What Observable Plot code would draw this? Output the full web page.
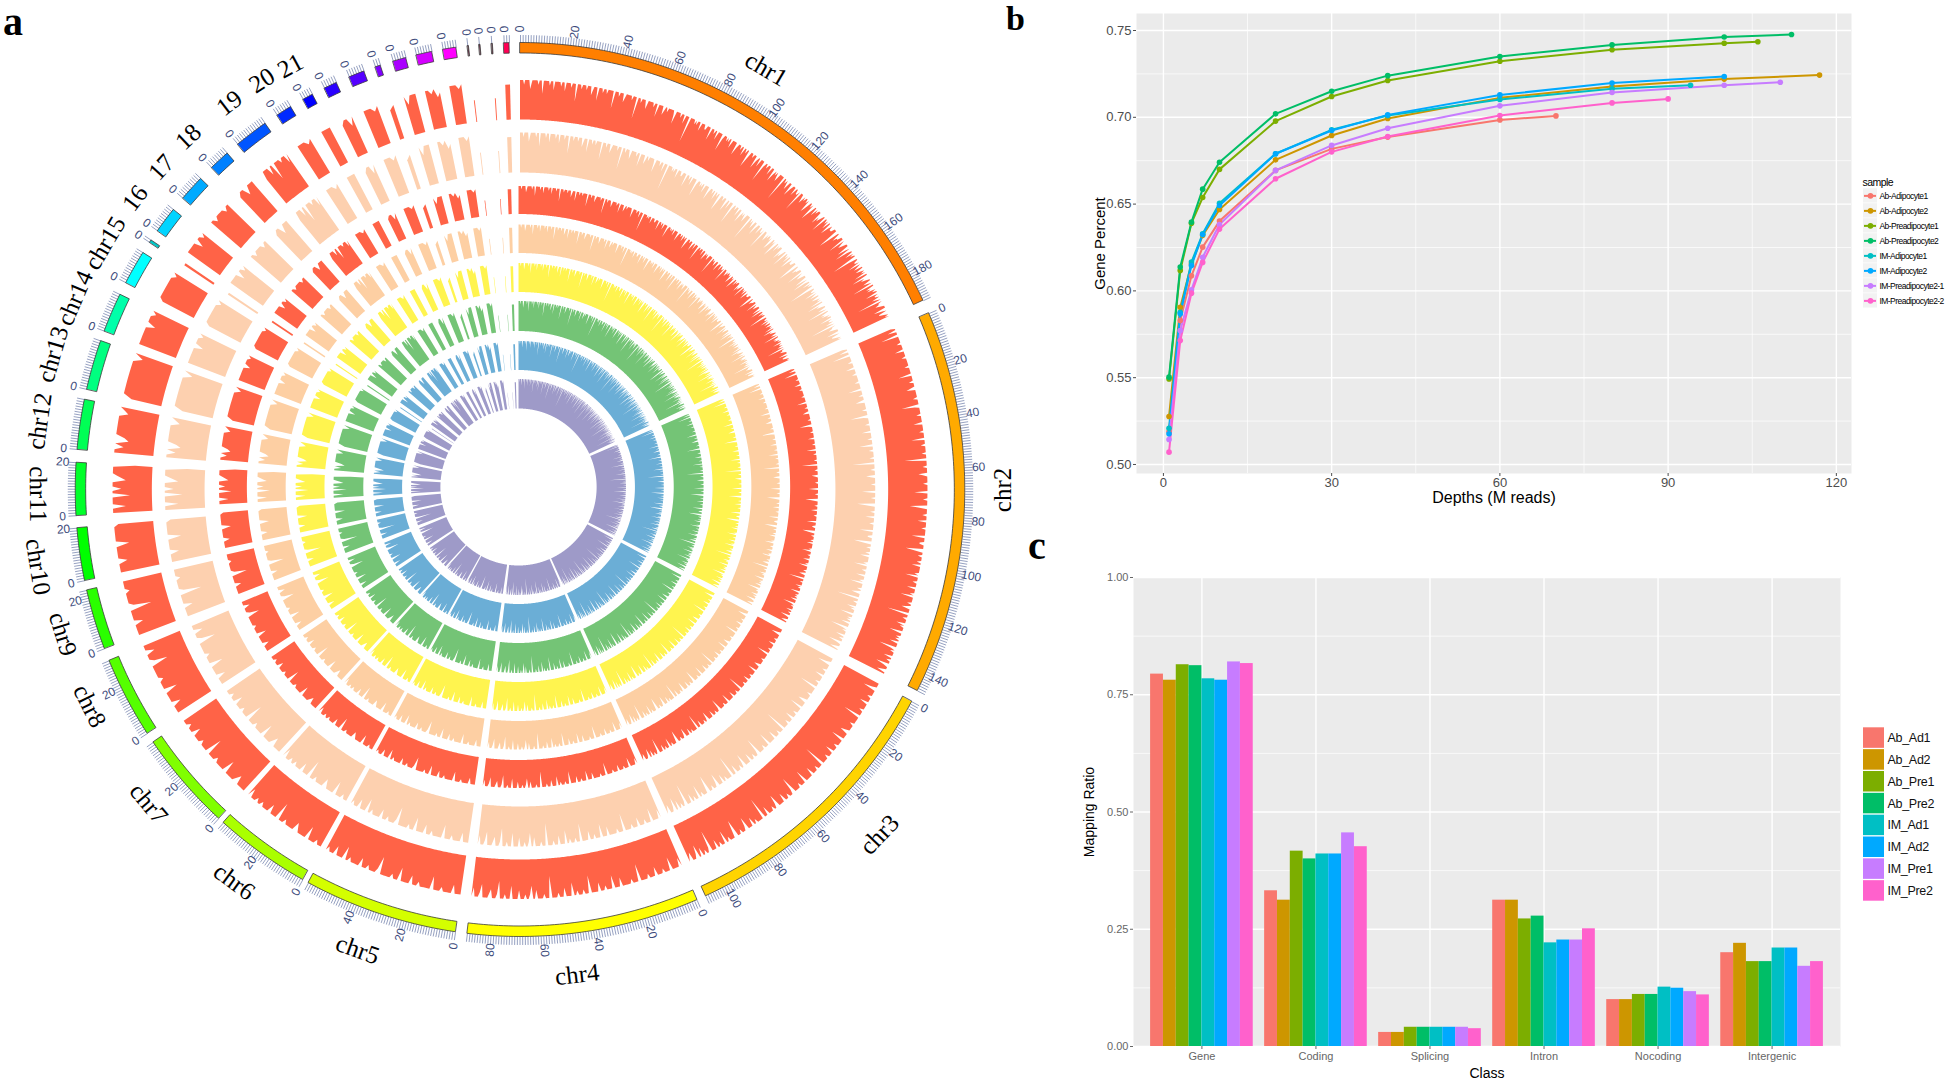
<!DOCTYPE html>
<html><head><meta charset="utf-8">
<script src="https://cdn.jsdelivr.net/npm/d3@7"></script>
<script src="https://cdn.jsdelivr.net/npm/@observablehq/plot@0.6"></script>
<style>
html,body{margin:0;padding:0;background:#fff}
#page{position:relative;width:1946px;height:1081px;overflow:hidden}
#page>svg,#page>figure{position:absolute;margin:0}
.tag{position:absolute;font-family:"Liberation Serif",serif;font-weight:bold;color:#000;line-height:1.1}
</style></head><body><div id="page"></div>
<script>
// ---------- panel a: genome ring ----------
const chromosomes=["chr1","chr2","chr3","chr4","chr5","chr6","chr7","chr8","chr9","chr10","chr11","chr12","chr13","chr14","chr15","16","17","18","19","20","21","22","23","24","25","26","27","28","29","30","31","32"];
const chrStartDeg=[0,66.75,118.3,156.6,188.4,209.3,222.7,237,249.2,258.3,266.7,275.2,283,290.8,297.6,303.6,305.4,310.7,316.1,320.6,326.9,330.8,333.9,337.4,341,343.4,346.5,350,353.2,354.7,356.3,357.9];
const chrMb=[191,147,109,89,59,37,38,31,23,20,20,19,19,15,13,1,10,10,8,13,6,4,5,6,2,5,6,5,.4,.4,.4,2];
const chrColors=["#FF7F00","#FFAA00","#FFD400","#FFFF00","#D4FF00","#AAFF00","#80FF00","#55FF00","#2AFF00","#00FF00","#00FF2A","#00FF55","#00FF80","#00FFAA","#00FFFF","#00C8C8","#00D4FF","#00AAFF","#0080FF","#0055FF","#002AFF","#0000FF","#2A00FF","#5500FF","#7F00FF","#AA00FF","#D400FF","#FF00FF","#703048","#703048","#703048","#FF0055"];
const labelNames=chromosomes.slice(0,21);
const labelAngle=[30.4,90,133.7,173.3,199.6,216.3,230,243.5,252.6,261,269.5,278.1,286.1,293.2,300.6,307,311.8,316.6,322.9,327.6,331.4];
const labelRadius=[488,485,499,488,488,486,488,484,482,491,485,488,489,487,485,485,484,486,485,485,483];
const trackInner=[370,317,273,234,195,156,117,78.5];
const trackOuter=[409.5,357,301,262.5,224,186,146,108];
const trackColors=["#FF6347","#FDD0AF","#FF6347","#FDCFA3","#FFF44F","#74C476","#6BAED6","#9E9AC8"];
const trackShiftX=[0,0,-1.5,-1.5,-1.5,-1.5,-1.5,-1.5];
const trackShiftY=[0,0,2.5,2.5,2.5,2.5,2.5,2.5];
// Read depth per chromosome, one digit per sampled window (0 empty - 9 full track height)
const depthProfile=[
"9999899999789999998999699999989997999999899979999989999599998999989999789999699998999899999959999899997899999989999499989999879999998999699999789989999998699999899979999399999898999799998899996999899799999589998989979999968999899799899579998999689979999489989997999689898799999399898799968999799889499987989989679989579979899968789959989799689888999469978899959878999689589979899379988969879978989699587899789499787989969889789398878999689778989",
"8997999599999989999979999989999999899999969999989999879999999899999589999998999999799999989999969999899999989999499999899999789999998999999699999899999579999989999799999899999969999889999579998999989979999998969999899997999989699999899879999499989999798999969998989979999589899997998999689998799",
"9999869999989999799999899995999999899999879999969999989999799998999994999989999799999969999899999589998999799999689989999799949999989979999689998999579999899699989979999489989979968999789",
"9799999699998999979999899999599998999999799996999989997999995999899989969999799989999499989999799689989997999969998999589997899996899979",
"9999799999899996999999899979999969998999999589999899979999989969999799989",
"99989999699999879999989995999979999899899979",
"99999789999969999989999599998999979998999",
"9999799999699998999999589997999",
"99999799999489999989999",
"999979999969999998",
"99969999599799967899994",
"9979679999999789",
"799999999979",
"9999999799989",
"89999999989",
"88",
"9999979989",
"9989999899",
"8997999",
"7999979959999899979",
"99989",
"999",
"89979",
"99989",
"78",
"97999",
"998978",
"99989",
"5","0","5","88"
];
const R=(rad,deg)=>[rad*Math.sin(deg*Math.PI/180),rad*Math.cos(deg*Math.PI/180)];
const degPerMb=0.34;
function chrDeg(c,mb){return chrStartDeg[c]+mb*degPerMb}
function trackRows(t){
  const rows=[];
  chromosomes.forEach((name,c)=>{
    const s=depthProfile[c];
    const n=Math.max(s.length,2);
    for(let i=0;i<n;i++){
      const v=+s[Math.min(i,s.length-1)];
      const deg=chrDeg(c,chrMb[c]*i/(n-1));
      rows.push({chr:name,deg,r0:trackInner[t],r1:trackInner[t]+(trackOuter[t]-trackInner[t])*v/9,
        sx:trackShiftX[t],sy:trackShiftY[t]});
    }
  });
  return rows;
}
const ideoRows=chromosomes.flatMap((name,c)=>{
  const n=Math.max(2,Math.ceil(chrMb[c]/2)+1);
  return d3.range(n).map(i=>({chr:name,deg:chrDeg(c,chrMb[c]*i/(n-1)),color:chrColors[c]}));
});
const tickRows=chromosomes.flatMap((name,c)=>d3.range(0,chrMb[c]+.5).map(mb=>({deg:chrDeg(c,mb),mb})));
const tickLabelRows=chromosomes.flatMap((name,c)=>d3.range(0,chrMb[c]+.5,20).map(mb=>({deg:chrDeg(c,mb),mb})));
const chrLabelRows=labelNames.map((name,i)=>({name,deg:labelAngle[i],r:labelRadius[i]}));
const ringPlot=Plot.plot({
  width:1060,height:1010,margin:0,
  x:{domain:[-522.6,542.7],range:[0,1060],axis:null},
  y:{domain:[-520.5,489.5],range:[1010,0],axis:null},
  color:{type:"identity"},
  marks:[
    ...trackColors.map((col,t)=>Plot.area(trackRows(t),{
      x1:d=>R(d.r0,d.deg)[0]+d.sx,y1:d=>R(d.r0,d.deg)[1]+d.sy,
      x2:d=>R(d.r1,d.deg)[0]+d.sx,y2:d=>R(d.r1,d.deg)[1]+d.sy,
      z:"chr",fill:col})),
    Plot.link(tickRows,{
      x1:d=>R(447,d.deg)[0],y1:d=>R(447,d.deg)[1],
      x2:d=>R(455,d.deg)[0],y2:d=>R(455,d.deg)[1],
      stroke:"#8a96ba",strokeWidth:0.9}),
    Plot.area(ideoRows,{
      x1:d=>R(436.5,d.deg)[0],y1:d=>R(436.5,d.deg)[1],
      x2:d=>R(447,d.deg)[0],y2:d=>R(447,d.deg)[1],
      z:"chr",fill:"color",stroke:"#3a3a3a",strokeWidth:0.8}),
    Plot.text(tickLabelRows,{
      x:d=>R(461,d.deg)[0],y:d=>R(461,d.deg)[1],text:d=>String(d.mb),
      rotate:d=>d.deg<=180?d.deg-90:d.deg-270,
      fontSize:12,fontFamily:"Liberation Sans",fill:"#3e4c7c"}),
    Plot.text(chrLabelRows,{
      x:d=>R(d.r,d.deg)[0],y:d=>R(d.r,d.deg)[1],text:"name",
      rotate:d=>(d.deg>=90&&d.deg<270)?(d.deg===90?-90:d.deg-180):(d.deg>=270?d.deg-360:d.deg),
      fontSize:25,fontFamily:"Liberation Serif",fill:"#000"})
  ]
});
ringPlot.style.left="0px";ringPlot.style.top="0px";
document.getElementById("page").appendChild(ringPlot);

// ---------- panel b: saturation curves ----------
const sampleNames=["Ab-Adipocyte1","Ab-Adipocyte2","Ab-Preadipocyte1","Ab-Preadipocyte2","IM-Adipocyte1","IM-Adipocyte2","IM-Preadipocyte2-1","IM-Preadipocyte2-2"];
const hueColors=["#F8766D","#CD9600","#7CAE00","#00BE67","#00BFC4","#00A9FF","#C77CFF","#FF61CC"];
const depthsCommon=[1,3,5,7,10,20,30,40,60,80,100];
const depthEnd=[70,117,106,112,94,100,110,90];
const genePct=[
 [.519,.583,.6087,.6252,.6402,.6694,.6818,.6886,.6985,.7008],
 [.5276,.5906,.6155,.632,.6469,.6755,.6895,.6993,.7112,.7177,.722,.7243],
 [.5492,.6118,.639,.6538,.67,.6978,.712,.7212,.7323,.7389,.7427,.7435],
 [.5503,.6137,.6396,.6586,.6741,.702,.715,.724,.735,.7417,.7463,.7477],
 [.5209,.5877,.6166,.6329,.6505,.679,.6928,.701,.7103,.7164,.7185],
 [.5177,.5868,.6146,.6325,.6492,.679,.6924,.7014,.7129,.7197,.7235],
 [.5144,.5772,.6006,.6194,.6382,.6694,.6838,.6937,.7066,.7143,.7185,.7202],
 [.5071,.5714,.5987,.6164,.6356,.6646,.6801,.6889,.701,.7083,.7106]
];
const curveRows=sampleNames.flatMap((s,k)=>genePct[k].map((v,i)=>({sample:s,
  depth:i===genePct[k].length-1?depthEnd[k]:depthsCommon[i],pct:v})));
const grey="#EBEBEB";
const curvePlot=Plot.plot({
  width:775,height:520,marginLeft:56,marginRight:4,marginTop:13,marginBottom:47,
  x:{domain:[-4.8,122.7]},y:{domain:[0.4948,0.7598]},
  color:{domain:sampleNames,range:hueColors},
  marks:[
    Plot.frame({fill:grey,stroke:null}),
    Plot.ruleY([.525,.575,.625,.675,.725],{stroke:"#fff",strokeWidth:.7}),
    Plot.ruleX([15,45,75,105],{stroke:"#fff",strokeWidth:.7}),
    Plot.ruleY([.5,.55,.6,.65,.7,.75],{stroke:"#fff",strokeWidth:1.4}),
    Plot.ruleX([0,30,60,90,120],{stroke:"#fff",strokeWidth:1.4}),
    Plot.axisX({ticks:[0,30,60,90,120],tickSize:3,tickPadding:1,fontSize:13,color:"#4d4d4d",label:null}),
    Plot.axisY({ticks:[.5,.55,.6,.65,.7,.75],tickFormat:d3.format(".2f"),tickSize:3,tickPadding:2,fontSize:13,color:"#4d4d4d",label:null}),
    Plot.line(curveRows,{x:"depth",y:"pct",stroke:"sample",z:"sample",strokeWidth:2}),
    Plot.dot(curveRows,{x:"depth",y:"pct",fill:"sample",r:2.8}),
    Plot.text(["Depths (M reads)"],{frameAnchor:"bottom",lineAnchor:"middle",dy:24,fontSize:16,fontFamily:"Liberation Sans",fill:"#000"}),
    Plot.text(["Gene Percent"],{frameAnchor:"left",textAnchor:"middle",dx:-36,rotate:-90,fontSize:15,fontFamily:"Liberation Sans",fill:"#000"})
  ],
  style:{fontFamily:"Liberation Sans"}
});
curvePlot.style.left="1080px";curvePlot.style.top="0px";
document.getElementById("page").appendChild(curvePlot);

const curveLegend=Plot.plot({
  width:86,height:137.25,marginLeft:0,marginRight:0,marginTop:16.5,marginBottom:0,
  x:{domain:[0,86],range:[0,86],axis:null},
  y:{domain:sampleNames,type:"band",padding:0.05,round:false,axis:null},
  color:{domain:sampleNames,range:hueColors},
  marks:[
    Plot.barX(sampleNames,{x1:()=>3,x2:()=>17,y:d=>d,fill:"#f2f2f2"}),
    Plot.ruleY(sampleNames,{x1:()=>4,x2:()=>16,y:d=>d,stroke:d=>d,strokeWidth:2}),
    Plot.dot(sampleNames,{x:()=>10,y:d=>d,fill:d=>d,r:2.8}),
    Plot.text(sampleNames,{x:()=>19,y:d=>d,text:d=>d,textAnchor:"start",fontSize:8.5,fontFamily:"Liberation Sans",fill:"#000"}),
    Plot.text(["sample"],{frameAnchor:"top-left",dx:2,dy:-9,fontSize:10.5,fontFamily:"Liberation Sans",fill:"#000"})
  ],
  style:{letterSpacing:"-0.55px"}
});
curveLegend.style.left="1860px";curveLegend.style.top="171px";
document.getElementById("page").appendChild(curveLegend);

// ---------- panel c: mapping ratio ----------
const classNames=["Gene","Coding","Splicing","Intron","Nocoding","Intergenic"];
const barSamples=["Ab_Ad1","Ab_Ad2","Ab_Pre1","Ab_Pre2","IM_Ad1","IM_Ad2","IM_Pre1","IM_Pre2"];
const mapGene=[.794,.781,.814,.812,.784,.781,.82,.8165];
const mapCoding=[.332,.312,.4165,.4,.4105,.4105,.4555,.426];
const mapSplicing=[.03,.03,.041,.041,.041,.041,.041,.038];
const mapIntron=[.312,.312,.272,.278,.221,.227,.227,.251];
const mapNocoding=[.1,.1,.111,.111,.1266,.1243,.117,.11];
const mapIntergenic=[.2,.22,.181,.181,.21,.21,.171,.181];
const barRows=[mapGene,mapCoding,mapSplicing,mapIntron,mapNocoding,mapIntergenic].flatMap((vals,c)=>
  vals.map((v,s)=>({cls:c+1,s,sample:barSamples[s],v})));
const barPlot=Plot.plot({
  width:770,height:521,marginLeft:53,marginRight:10,marginTop:17,marginBottom:35,
  x:{domain:[0.4,6.6]},y:{domain:[0,1]},
  color:{domain:barSamples,range:hueColors},
  marks:[
    Plot.frame({fill:grey,stroke:null}),
    Plot.ruleY([.125,.375,.625,.875],{stroke:"#fff",strokeWidth:.7}),
    Plot.ruleY([0,.25,.5,.75,1],{stroke:"#fff",strokeWidth:1.4}),
    Plot.ruleX([1,2,3,4,5,6],{stroke:"#fff",strokeWidth:1.4}),
    Plot.rectY(barRows,{x1:d=>d.cls-.45+d.s*.1125,x2:d=>d.cls-.45+(d.s+1)*.1125,y1:()=>0,y2:"v",fill:"sample"}),
    Plot.axisX({ticks:[1,2,3,4,5,6],tickFormat:i=>classNames[i-1],tickSize:3,tickPadding:3,fontSize:11,color:"#666",label:null}),
    Plot.axisY({ticks:[0,.25,.5,.75,1],tickFormat:d3.format(".2f"),tickSize:3,tickPadding:2,fontSize:11,color:"#666",label:null}),
    Plot.text(["Class"],{frameAnchor:"bottom",lineAnchor:"middle",dy:27,fontSize:14,fontFamily:"Liberation Sans",fill:"#000"}),
    Plot.text(["Mapping Ratio"],{frameAnchor:"left",textAnchor:"middle",dx:-44,rotate:-90,fontSize:14,fontFamily:"Liberation Sans",fill:"#000"})
  ],
  style:{fontFamily:"Liberation Sans"}
});
barPlot.style.left="1080px";barPlot.style.top="560px";
document.getElementById("page").appendChild(barPlot);

const barLegend=Plot.plot({
  width:86,height:176,margin:0,
  x:{domain:[0,86],range:[0,86],axis:null},
  y:{domain:barSamples,type:"band",padding:0.06,round:false,axis:null},
  color:{domain:barSamples,range:hueColors},
  marks:[
    Plot.barX(barSamples,{x1:()=>3,x2:()=>24,y:d=>d,fill:d=>d}),
    Plot.text(barSamples,{x:()=>27,y:d=>d,text:d=>d,textAnchor:"start",fontSize:12.5,fontFamily:"Liberation Sans",fill:"#111"})
  ],
  style:{letterSpacing:"-0.3px"}
});
barLegend.style.left="1860px";barLegend.style.top="726px";
document.getElementById("page").appendChild(barLegend);

// ---------- panel letters ----------
[["a",3,0,40],["b",1006,0,34],["c",1028,524,40]].forEach(([t,l,top,s])=>{
  const e=document.createElement("div");e.className="tag";e.textContent=t;
  e.style.left=l+"px";e.style.top=top+"px";e.style.fontSize=s+"px";
  document.getElementById("page").appendChild(e);
});
</script></body></html>
